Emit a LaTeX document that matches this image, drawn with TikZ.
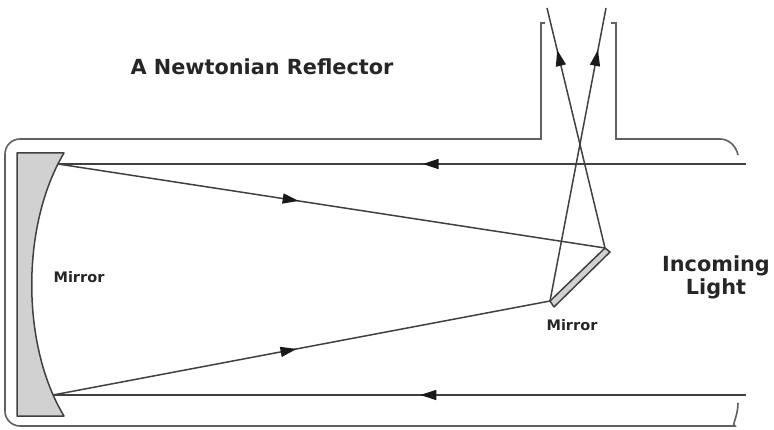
\documentclass[tikz,border=0pt]{standalone}
\usepackage{fontspec}
\setmainfont{DejaVu Sans}
\usetikzlibrary{arrows.meta,decorations.markings}
\tikzset{
  tube/.style={draw=black!62,line width=1.6pt},
  ray/.style={draw=black!75,line width=1.5pt},
  glass/.style={draw=black!75,line width=1.5pt,fill=black!18,line join=round},
  midtip/.style={postaction={decorate},decoration={markings,
    mark=at position #1 with {\arrow{Triangle[length=16pt,width=10pt,color=black!90]}}}},
  lab/.style={font=\bfseries\fontsize{14.5}{16}\selectfont,text=black!85,inner sep=0pt},
  biglab/.style={font=\bfseries\fontsize{20.8}{23}\selectfont,text=black!85,inner sep=0pt,align=center}
}
\begin{document}
\begin{tikzpicture}[x=1pt,y=-1pt]
\useasboundingbox (0,0) rectangle (774,430);

\coordinate (mainTop) at (58,164);
\coordinate (mainBot) at (53,395);
\coordinate (flatTop) at (605,248);
\coordinate (flatBot) at (550,301);
\coordinate (lightTop) at (746,164);
\coordinate (lightBot) at (746,395);
\coordinate (exitA) at (547,8);
\coordinate (exitB) at (606,8);

% tube and focuser
\draw[tube] (545,23) -- (541,23) -- (541,139) [rounded corners=15pt] -- (5,139)
  -- (5,426) -- (720,426) [sharp corners] .. controls (731,426) and (738,417) .. (738,403);
\draw[tube] (611,23) -- (616,23) -- (616,139) -- (720,139) .. controls (729,139) and (736,146) .. (738,155);

% mirrors
\draw[glass] (17,153) -- (64,153) .. controls (21,225) and (21,345) .. (64,416) -- (17,416) -- cycle;
\draw[glass] (605,248) -- (610,252) -- (554,307) -- (550,301) -- cycle;

% light path
\draw[ray,midtip=0.47] (lightTop) -- (mainTop);
\draw[ray,midtip=0.47] (lightBot) -- (mainBot);
\draw[ray,midtip=0.44] (mainTop) -- (flatTop);
\draw[ray,midtip=0.49] (mainBot) -- (flatBot);
\draw[ray,midtip=0.825] (flatTop) -- (exitA);
\draw[ray,midtip=0.857] (flatBot) -- (exitB);

\node[biglab] (title) at (262,67) {A Newtonian Reflector};
\node[biglab] (incoming) at (716,277) {Incoming\\Light};
\node[lab] (bigMirror) at (79,277) {Mirror};
\node[lab] (flatMirror) at (572,325) {Mirror};
\end{tikzpicture}
\end{document}
